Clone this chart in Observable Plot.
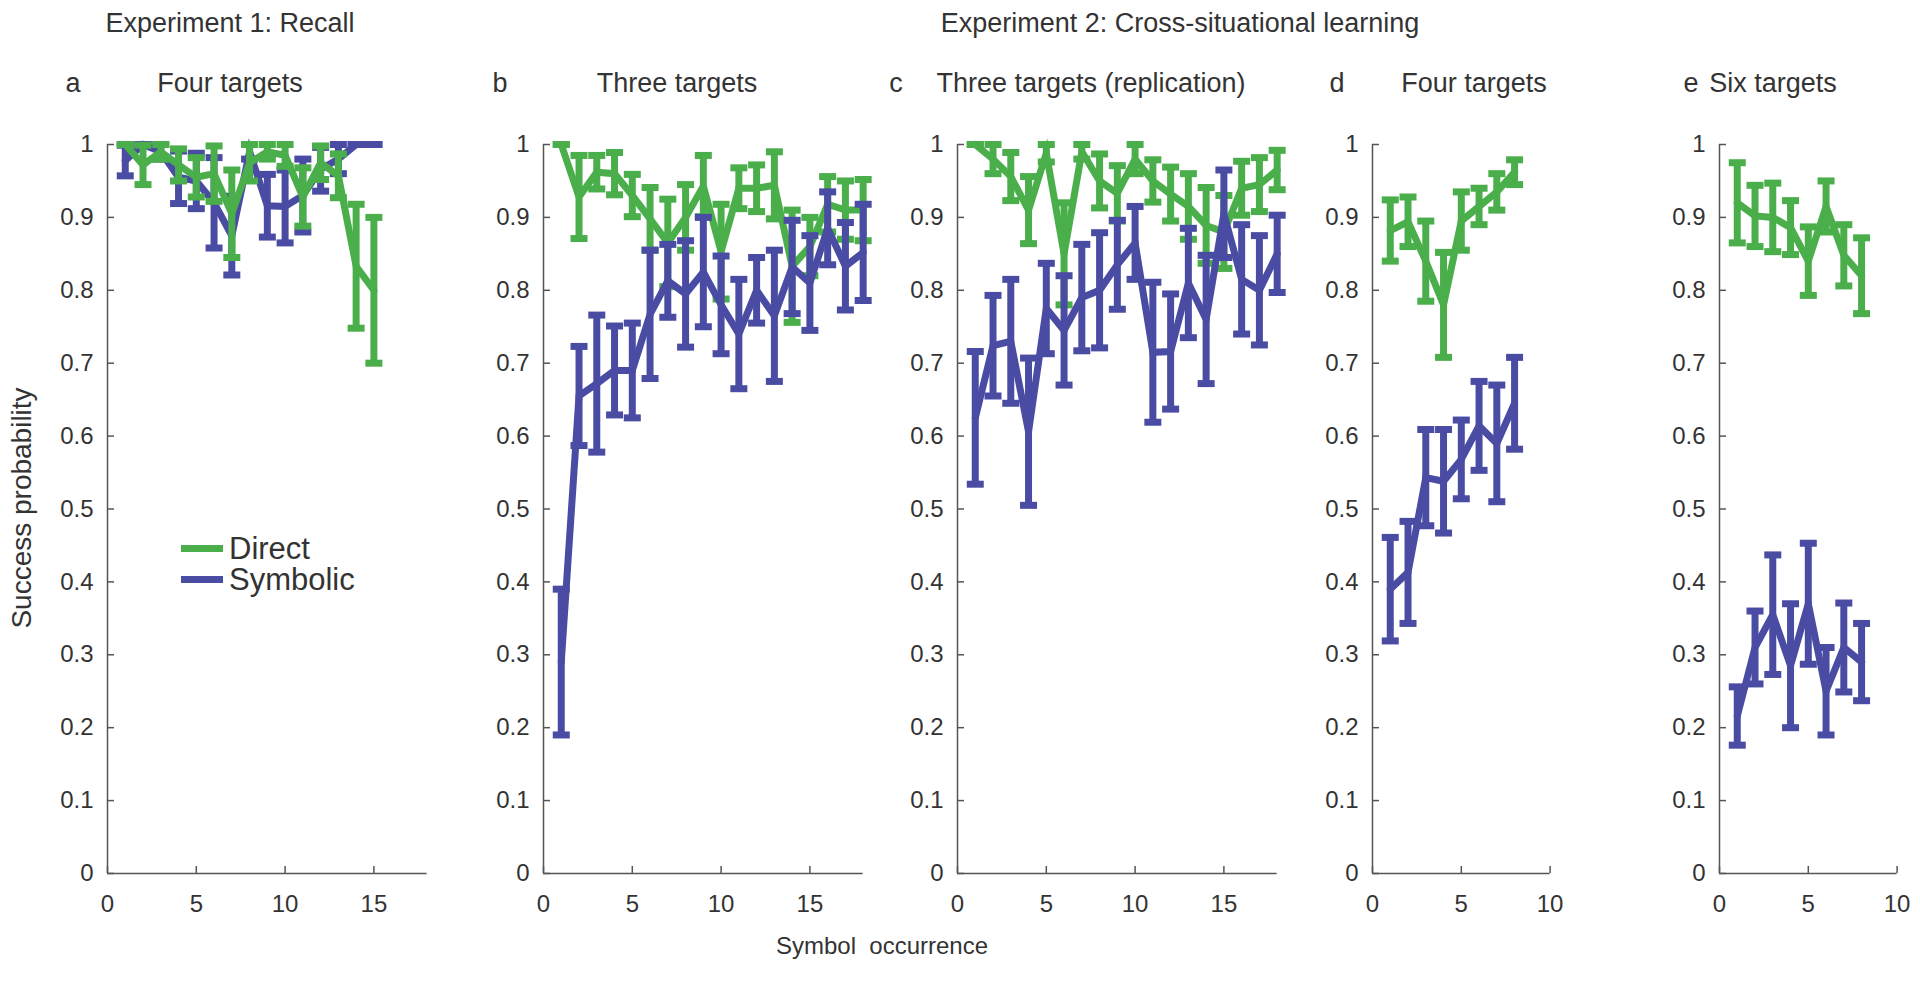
<!DOCTYPE html>
<html><head><meta charset="utf-8">
<script src="https://cdn.jsdelivr.net/npm/d3@7"></script>
<script src="https://cdn.jsdelivr.net/npm/@observablehq/plot@0.6"></script>
<style>
body{margin:0;background:#fff;font-family:"Liberation Sans",Arial,Helvetica,sans-serif;color:#333}
#wrap{position:relative;width:1920px;height:989px;overflow:hidden;background:#fff}
.t{position:absolute;white-space:pre;line-height:1;transform:translate(-50%,-50%);color:#333}
.p{position:absolute}
.legtext{position:absolute;white-space:pre;font-size:31px;line-height:31px;color:#333}
.sw{position:absolute;width:42px;height:7px}
</style></head><body><div id="wrap"></div>
<script>
// ---------- data ----------
const seriesNames = ["Direct", "Symbolic"];
const seriesColors = ["#4aae4b", "#4a4ca4"];

const yTicks = [0, 0.1, 0.2, 0.3, 0.4, 0.5, 0.6, 0.7, 0.8, 0.9, 1];
const yTickLabels = ["0", "0.1", "0.2", "0.3", "0.4", "0.5", "0.6", "0.7", "0.8", "0.9", "1"];
const xTicksLong = [0, 5, 10, 15];
const xTicksShort = [0, 5, 10];

// Panel a: Experiment 1, four targets
const aX = [1,2,3,4,5,6,7,8,9,10,11,12,13,14,15];
const aDirect    = [1.00, 0.972, 0.99, 0.972, 0.955, 0.96, 0.905, 0.975, 0.99, 0.985, 0.928, 0.975, 0.957, 0.833, 0.80];
const aDirectErr = [0.00, 0.027, 0.01, 0.022, 0.027, 0.038, 0.06, 0.025, 0.01, 0.015, 0.04, 0.023, 0.03, 0.085, 0.10];
const aSymbolic    = [0.978, 1.0, 0.99, 0.955, 0.95, 0.92, 0.875, 0.99, 0.916, 0.915, 0.93, 0.966, 0.98, 1.0, 1.0];
const aSymbolicErr = [0.021, 0.0, 0.01, 0.036, 0.038, 0.062, 0.054, 0.01, 0.043, 0.05, 0.05, 0.03, 0.02, 0.0, 0.0];

// Panel b: three targets
const bX = [1,2,3,4,5,6,7,8,9,10,11,12,13,14,15,16,17,18];
const bDirect    = [1.0, 0.928, 0.962, 0.96, 0.93, 0.898, 0.865, 0.9, 0.943, 0.853, 0.94, 0.94, 0.944, 0.833, 0.86, 0.918, 0.91, 0.91];
const bDirectErr = [0.0, 0.057, 0.023, 0.029, 0.029, 0.043, 0.06, 0.045, 0.042, 0.065, 0.028, 0.032, 0.046, 0.077, 0.04, 0.038, 0.04, 0.042];
const bSymbolic    = [0.29, 0.655, 0.672, 0.69, 0.69, 0.767, 0.813, 0.795, 0.825, 0.78, 0.74, 0.80, 0.765, 0.832, 0.81, 0.885, 0.833, 0.852];
const bSymbolicErr = [0.10, 0.068, 0.094, 0.061, 0.065, 0.088, 0.05, 0.073, 0.075, 0.067, 0.075, 0.045, 0.09, 0.064, 0.065, 0.05, 0.06, 0.066];

// Panel c: three targets (replication)
const cX = [1,2,3,4,5,6,7,8,9,10,11,12,13,14,15,16,17,18];
const cDirect    = [1.0, 0.98, 0.956, 0.91, 0.988, 0.85, 0.99, 0.95, 0.933, 0.98, 0.95, 0.932, 0.915, 0.889, 0.88, 0.94, 0.945, 0.965];
const cDirectErr = [0.0, 0.02, 0.033, 0.046, 0.012, 0.07, 0.01, 0.037, 0.038, 0.02, 0.029, 0.037, 0.045, 0.052, 0.05, 0.037, 0.037, 0.027];
const cSymbolic    = [0.625, 0.724, 0.73, 0.606, 0.775, 0.745, 0.79, 0.80, 0.835, 0.865, 0.715, 0.716, 0.81, 0.76, 0.905, 0.815, 0.80, 0.85];
const cSymbolicErr = [0.091, 0.069, 0.085, 0.101, 0.062, 0.075, 0.073, 0.079, 0.061, 0.05, 0.096, 0.079, 0.075, 0.088, 0.06, 0.075, 0.075, 0.053];

// Panel d: four targets
const dX = [1,2,3,4,5,6,7,8];
const dDirect    = [0.882, 0.894, 0.84, 0.78, 0.895, 0.915, 0.935, 0.962];
const dDirectErr = [0.042, 0.034, 0.055, 0.072, 0.04, 0.025, 0.025, 0.017];
const dSymbolic    = [0.39, 0.413, 0.543, 0.538, 0.568, 0.614, 0.59, 0.645];
const dSymbolicErr = [0.071, 0.07, 0.066, 0.071, 0.054, 0.061, 0.08, 0.063];

// Panel e: six targets
const eX = [1,2,3,4,5,6,7,8];
const eDirect    = [0.92, 0.902, 0.90, 0.886, 0.84, 0.915, 0.848, 0.82];
const eDirectErr = [0.055, 0.042, 0.047, 0.037, 0.047, 0.035, 0.042, 0.052];
const eSymbolic    = [0.216, 0.31, 0.355, 0.285, 0.37, 0.25, 0.31, 0.29];
const eSymbolicErr = [0.04, 0.05, 0.082, 0.085, 0.083, 0.06, 0.061, 0.053];

// ---------- layout ----------
const UNIT = 17.76;          // px per x unit
const PLOT_H = 729;          // px from y=0 to y=1
const TOP = 144;             // page y of y=1
const ML = 70, MR = 20, MT = 20, MB = 60;
const AXIS_COLOR = "#555";
const FONT = '"Liberation Sans", Arial, Helvetica, sans-serif';
const LW = 7;

const panels = [
  {left: 106.5, xMax: 18, xTicks: xTicksLong, x: aX, d: aDirect, dErr: aDirectErr, s: aSymbolic, sErr: aSymbolicErr, symbolicFirst: true},
  {left: 543,   xMax: 18, xTicks: xTicksLong, x: bX, d: bDirect, dErr: bDirectErr, s: bSymbolic, sErr: bSymbolicErr},
  {left: 956.5, xMax: 18, xTicks: xTicksLong, x: cX, d: cDirect, dErr: cDirectErr, s: cSymbolic, sErr: cSymbolicErr},
  {left: 1371.5,xMax: 10, xTicks: xTicksShort, x: dX, d: dDirect, dErr: dDirectErr, s: dSymbolic, sErr: dSymbolicErr},
  {left: 1719,  xMax: 10, xTicks: xTicksShort, x: eX, d: eDirect, dErr: eDirectErr, s: eSymbolic, sErr: eSymbolicErr}
];

const capSymbol = {
  draw(ctx, size) {
    const r = Math.sqrt(size / Math.PI);
    ctx.moveTo(-r, 0);
    ctx.lineTo(r, 0);
  }
};

function seriesMarks(x, m, err, color) {
  const rows = x.map((xi, i) => ({x: xi, m: m[i], lo: m[i] - err[i], hi: m[i] + err[i]}));
  const caps = rows.flatMap(r => [{x: r.x, y: r.lo}, {x: r.x, y: r.hi}]);
  return [
    Plot.ruleX(rows, {x: "x", y1: "lo", y2: "hi", stroke: color, strokeWidth: LW}),
    Plot.dot(caps, {x: "x", y: "y", symbol: capSymbol, r: 8.5, stroke: color, strokeWidth: LW, fill: "none"}),
    Plot.line(rows, {x: "x", y: "m", stroke: color, strokeWidth: LW, strokeLinejoin: "miter", strokeMiterlimit: 6})
  ];
}

const wrap = document.getElementById("wrap");

panels.forEach(p => {
  const W = p.xMax * UNIT;
  const direct = seriesMarks(p.x, p.d, p.dErr, seriesColors[0]);
  const symbolic = seriesMarks(p.x, p.s, p.sErr, seriesColors[1]);
  const dataMarks = p.symbolicFirst ? [...symbolic, ...direct] : [...direct, ...symbolic];
  const svg = Plot.plot({
    width: ML + W + MR,
    height: MT + PLOT_H + MB,
    marginLeft: ML, marginRight: MR, marginTop: MT, marginBottom: MB,
    x: {domain: [0, p.xMax]},
    y: {domain: [0, 1]},
    style: {fontFamily: FONT, fontSize: "24px", color: "#333", background: "transparent", overflow: "visible"},
    marks: [
      Plot.ruleX([0], {stroke: AXIS_COLOR, strokeWidth: 1.5}),
      Plot.ruleY([0], {stroke: AXIS_COLOR, strokeWidth: 1.5}),
      Plot.ruleY(yTicks, {y: d => d, insetRight: W - 7, stroke: AXIS_COLOR, strokeWidth: 1.5}),
      Plot.ruleX(p.xTicks, {x: d => d, insetTop: PLOT_H - 7, stroke: AXIS_COLOR, strokeWidth: 1.5}),
      Plot.axisY({ticks: yTicks, tickSize: 0, tickPadding: 14, label: null,
                  tickFormat: d => yTickLabels[yTicks.indexOf(d)], fill: "#333"}),
      Plot.axisX({ticks: p.xTicks, tickSize: 0, tickPadding: 21, label: null, fill: "#333"}),
      ...dataMarks
    ]
  });
  svg.classList.add("p");
  svg.style.left = (p.left - ML) + "px";
  svg.style.top = (TOP - MT) + "px";
  wrap.appendChild(svg);
});

// ---------- texts ----------
const texts = [
  {text: "Experiment 1: Recall", x: 230, y: 23, size: 27},
  {text: "Experiment 2: Cross-situational learning", x: 1180, y: 23, size: 27},
  {text: "a", x: 73, y: 83, size: 27},
  {text: "Four targets", x: 230, y: 83, size: 27},
  {text: "b", x: 500, y: 83, size: 27},
  {text: "Three targets", x: 677, y: 83, size: 27},
  {text: "c", x: 896, y: 83, size: 27},
  {text: "Three targets (replication)", x: 1091, y: 83, size: 27},
  {text: "d", x: 1337, y: 83, size: 27},
  {text: "Four targets", x: 1474, y: 83, size: 27},
  {text: "e", x: 1691, y: 83, size: 27},
  {text: "Six targets", x: 1773, y: 83, size: 27},
  {text: "Symbol  occurrence", x: 882, y: 946, size: 24}
];
texts.forEach(t => {
  const el = document.createElement("div");
  el.className = "t";
  el.textContent = t.text;
  el.style.left = t.x + "px";
  el.style.top = t.y + "px";
  el.style.fontSize = t.size + "px";
  wrap.appendChild(el);
});
const yl = document.createElement("div");
yl.className = "t";
yl.textContent = "Success probability";
yl.style.left = "22px"; yl.style.top = "508px"; yl.style.fontSize = "28px";
yl.style.transform = "translate(-50%,-50%) rotate(-90deg)";
wrap.appendChild(yl);

// legend: swatches plus one text block (one line per series)
const LEG_TOP = 533, LEG_ROW = 31;
seriesNames.forEach((name, i) => {
  const sw = document.createElement("div");
  sw.className = "sw";
  sw.style.left = "181px";
  sw.style.top = (LEG_TOP + LEG_ROW * i + 12) + "px";
  sw.style.background = seriesColors[i];
  wrap.appendChild(sw);
});
const legText = document.createElement("div");
legText.className = "legtext";
legText.style.left = "229px";
legText.style.top = LEG_TOP + "px";
legText.textContent = seriesNames.join("\n");
wrap.appendChild(legText);
</script>
</body></html>
